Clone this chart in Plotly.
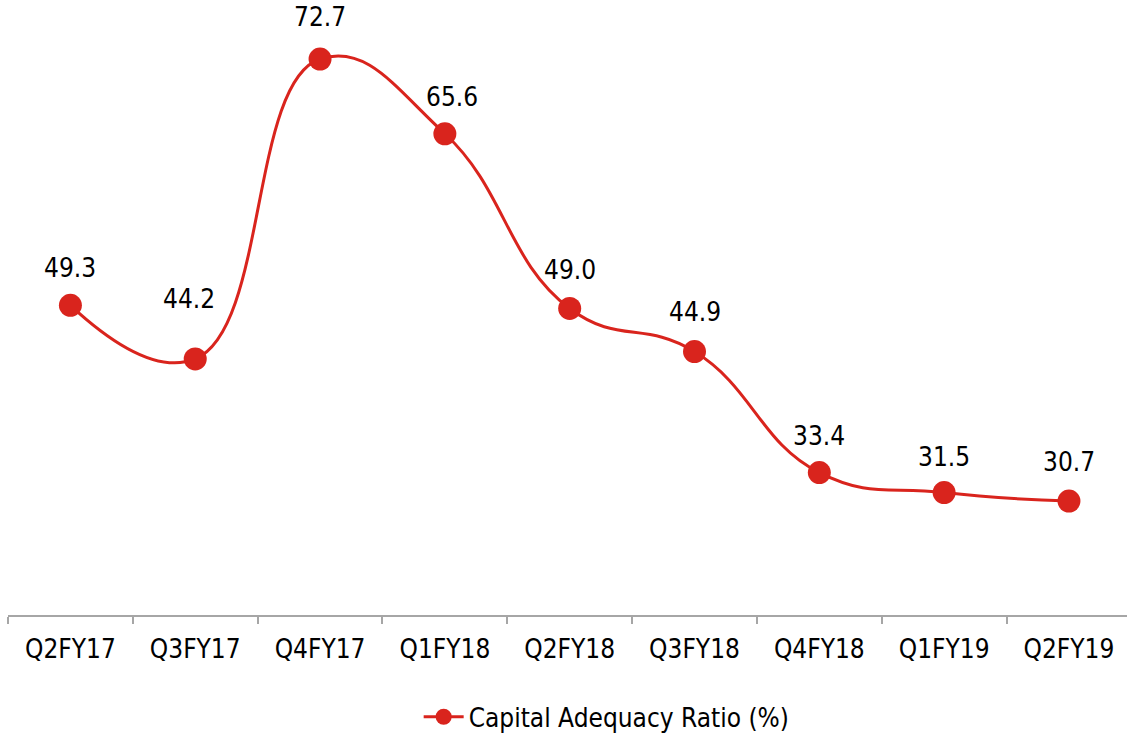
import plotly.graph_objects as go

quarters = ["Q2FY17", "Q3FY17", "Q4FY17", "Q1FY18", "Q2FY18",
            "Q3FY18", "Q4FY18", "Q1FY19", "Q2FY19"]
car_values = [49.3, 44.2, 72.7, 65.6, 49.0, 44.9, 33.4, 31.5, 30.7]

# Label placement offsets (pixels) relative to each point
label_dx = [0, -6, 0, 7, 0, 0, 0, 0, 0]
label_dy = [37, 60, 42, 37, 38, 40, 37, 36, 39]

RED = "#D9241D"
FONT = "DejaVu Sans Condensed, DejaVu Sans, sans-serif"

fig = go.Figure()
fig.add_trace(go.Scatter(
    x=quarters,
    y=car_values,
    mode="lines+markers",
    name="Capital Adequacy Ratio (%)",
    line=dict(color=RED, width=3, shape="spline", smoothing=1.3),
    marker=dict(color=RED, size=23),
))

for q, v, dx, dy in zip(quarters, car_values, label_dx, label_dy):
    fig.add_annotation(
        x=q, y=v, text=f"{v:.1f}", showarrow=False,
        xshift=dx, yshift=dy,
        font=dict(family=FONT, size=26, color="#000000"),
    )

fig.update_layout(
    width=1127, height=736,
    margin=dict(l=8, r=0, t=0, b=121, autoexpand=False),
    paper_bgcolor="white", plot_bgcolor="white",
    font=dict(family=FONT, size=26, color="#000000"),
    showlegend=True,
    legend=dict(
        orientation="h", x=0.535, xanchor="center",
        yref="container", y=0.026, yanchor="middle",
        font=dict(family=FONT, size=26, color="#000000"),
        itemwidth=40,
    ),
)
fig.update_xaxes(
    type="category",
    range=[-0.5, 8.465],
    showline=True, linecolor="#A6A6A6", linewidth=1.5,
    ticks="outside", ticklen=7, tickcolor="#A6A6A6", tickwidth=1.5,
    tickson="boundaries", ticklabelstandoff=10,
    showgrid=False, zeroline=False, automargin=False,
    tickfont=dict(family=FONT, size=26, color="#000000"),
)
fig.update_yaxes(
    range=[19.87, 78.31],
    visible=False, showgrid=False, zeroline=False,
)

fig.write_html("out.html")
